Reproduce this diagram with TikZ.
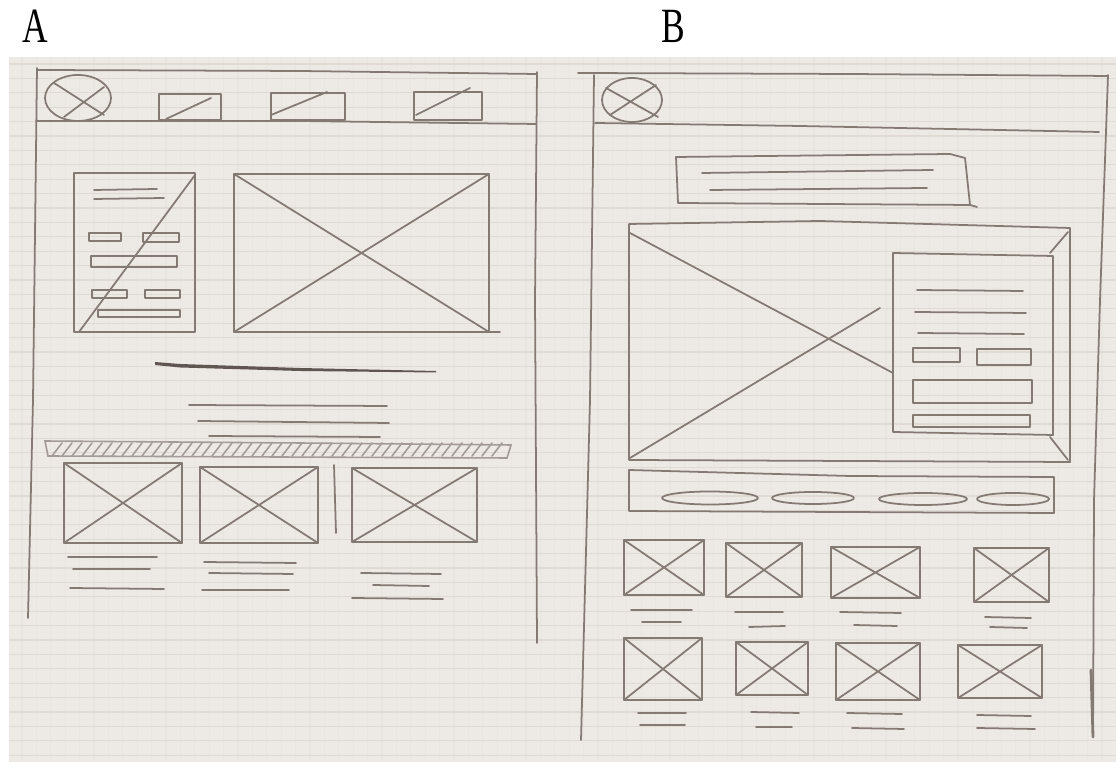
\documentclass[tikz,border=0pt]{standalone}
\usepackage{fontspec}
\usepackage{graphicx}
\setmainfont{Liberation Serif}
\definecolor{paper}{RGB}{237,233,229}
\definecolor{hrule}{RGB}{224,218,213}
\definecolor{vrule}{RGB}{233,229,225}
\definecolor{pencil}{RGB}{132,122,116}
\definecolor{darkpencil}{RGB}{95,86,82}
\newcommand\wxbox[4]{%
  \draw[pen] (#1,#2) rectangle (#3,#4);
  \draw[pen] (#1,#2) -- (#3,#4) (#1,#4) -- (#3,#2);}
\begin{document}
\begin{tikzpicture}[x=0.01cm,y=-0.01cm,
  pen/.style={draw=pencil,line width=0.5pt,line join=round,line cap=round},
  lightpen/.style={draw=pencil!75,line width=0.45pt,line cap=round},
  lbl/.style={font=\fontsize{14}{14}\selectfont,inner sep=0pt}]
\useasboundingbox (0,0) rectangle (1116,762);
\fill[white] (0,0) rectangle (1116,762);
\fill[paper] (9,57) rectangle (1116,762);
% ruled paper
\foreach \xx in {22,36.4,...,1116} \draw[vrule,line width=0.3pt] (\xx,57) -- (\xx,762);
\foreach \yy in {64,78.4,...,762} \draw[hrule,line width=0.35pt] (9,\yy) -- (1116,\yy);
% labels
\node[lbl] (labA) at (35,26) {\scalebox{0.72}[1]{A}};
\node[lbl] (labB) at (673,26) {\scalebox{0.72}[1]{B}};

% ================= Sketch A =================
\draw[pen] (37,70) -- (300,71) -- (536,74);
\draw[pen] (37,121) -- (300,121) -- (536,124);
\draw[pen] (37,68) -- (33,400) -- (28,618);
\draw[pen] (537,72) -- (535,300) -- (537,643);
% logo
\draw[pen] (78,98) ellipse [x radius=33, y radius=23];
\draw[pen] (54,83) -- (104,115) (64,117) -- (104,87);
% nav items
\draw[pen] (159,94) rectangle (221,120); \draw[pen] (166,119) -- (211,98);
\draw[pen] (271,93) rectangle (345,120); \draw[pen] (271,115) -- (327,92);
\draw[pen] (414,92) rectangle (482,120); \draw[pen] (416,115) -- (470,88);
% text card
\draw[pen] (74,173) rectangle (195,332);
\draw[pen] (79,332) -- (195,175);
\draw[pen] (94,190) -- (157,189) (94,199) -- (164,198);
\draw[pen] (89,233) rectangle (121,241);
\draw[pen] (143,233) rectangle (179,242);
\draw[pen] (91,256) rectangle (177,267);
\draw[pen] (92,290) rectangle (127,298);
\draw[pen] (145,290) rectangle (180,298);
\draw[pen] (98,310) rectangle (180,317);
% hero image
\wxbox{234}{174}{489}{332}
\draw[pen] (489,332) -- (500,332);
% title stroke
\fill[darkpencil] (155,362) -- (180,364) -- (300,368) -- (436,371) -- (436,372.5) -- (300,371) -- (180,367.5) -- (155,365) -- cycle;
% text lines
\draw[pen] (189,405) -- (387,406);
\draw[pen] (198,421) -- (389,423);
\draw[pen] (209,436) -- (380,437);
% hatched bar
\draw[lightpen] (45,441) -- (300,443) -- (511,445) -- (507,458) -- (48,456) -- cycle;
\foreach \hx in {52,62,...,500} \draw[lightpen] (\hx,456) -- (\hx+10,443);
% product row
\wxbox{64}{463}{182}{543}
\wxbox{200}{467}{318}{543}
\draw[pen] (334,465) -- (336,533);
\wxbox{352}{468}{477}{542}
\draw[pen] (68,557) -- (157,557) (73,569) -- (150,569) (70,588) -- (164,589);
\draw[pen] (204,562) -- (296,563) (209,573) -- (293,574) (202,590) -- (289,590);
\draw[pen] (361,573) -- (441,574) (373,585) -- (429,586) (352,598) -- (443,599);

% ================= Sketch B =================
\draw[pen] (578,73) -- (850,74) -- (1108,76);
\draw[pen] (595,123) -- (800,126) -- (1099,132);
\draw[pen] (594,75) -- (590,400) -- (581,740);
\draw[pen] (1108,75) -- (1100,300) -- (1094,500) -- (1093,737);
\draw[pen,line width=0.8pt] (1091,670) -- (1093,737);
% logo
\draw[pen] (632,100) ellipse [x radius=30, y radius=22];
\draw[pen] (606,88) -- (658,117) (610,115) -- (656,85);
% title box
\draw[pen] (678,203) -- (676,157) -- (950,154) -- (965,158) -- (970,205) -- cycle;
\draw[pen] (970,205) -- (977,207);
\draw[pen] (702,173) -- (933,170);
\draw[pen] (710,190) -- (927,188);
% hero
\draw[pen] (629,224) -- (820,221) -- (1070,228) -- (1070,462) -- (629,460) -- cycle;
\draw[pen] (630,233) -- (893,373);
\draw[pen] (1050,437) -- (1068,460);
\draw[pen] (630,458) -- (880,308);
\draw[pen] (1050,253) -- (1068,232);
% card
\draw[pen] (893,253) -- (1053,256) -- (1053,435) -- (893,432) -- cycle;
\draw[pen] (917,290) -- (1023,291) (915,312) -- (1026,313) (918,333) -- (1024,334);
\draw[pen] (913,348) rectangle (960,362);
\draw[pen] (977,349) rectangle (1031,365);
\draw[pen] (913,380) rectangle (1032,403);
\draw[pen] (913,415) rectangle (1030,427);
% category bar
\draw[pen] (629,470) -- (850,476) -- (1054,477) -- (1054,513) -- (629,511) -- cycle;
\draw[pen] (710,498) ellipse [x radius=48, y radius=6.5];
\draw[pen] (813,498) ellipse [x radius=41, y radius=6];
\draw[pen] (923,499) ellipse [x radius=44, y radius=6];
\draw[pen] (1013,499) ellipse [x radius=36, y radius=6];
% product grid row 1
\wxbox{624}{540}{704}{595}
\wxbox{726}{543}{802}{597}
\wxbox{831}{547}{920}{598}
\wxbox{974}{548}{1049}{602}
\draw[pen] (631,610) -- (692,610) (642,622) -- (681,622);
\draw[pen] (735,612) -- (783,612) (749,627) -- (785,626);
\draw[pen] (840,612) -- (901,613) (854,625) -- (897,626);
\draw[pen] (985,617) -- (1031,618) (990,627) -- (1027,628);
% product grid row 2
\wxbox{624}{638}{702}{700}
\wxbox{736}{642}{808}{695}
\wxbox{836}{643}{920}{700}
\wxbox{958}{645}{1042}{698}
\draw[pen] (638,713) -- (686,713) (640,725) -- (685,725);
\draw[pen] (751,712) -- (799,713) (756,727) -- (792,727);
\draw[pen] (847,713) -- (902,714) (852,728) -- (904,729);
\draw[pen] (977,715) -- (1031,716) (977,728) -- (1035,729);
\end{tikzpicture}
\end{document}
